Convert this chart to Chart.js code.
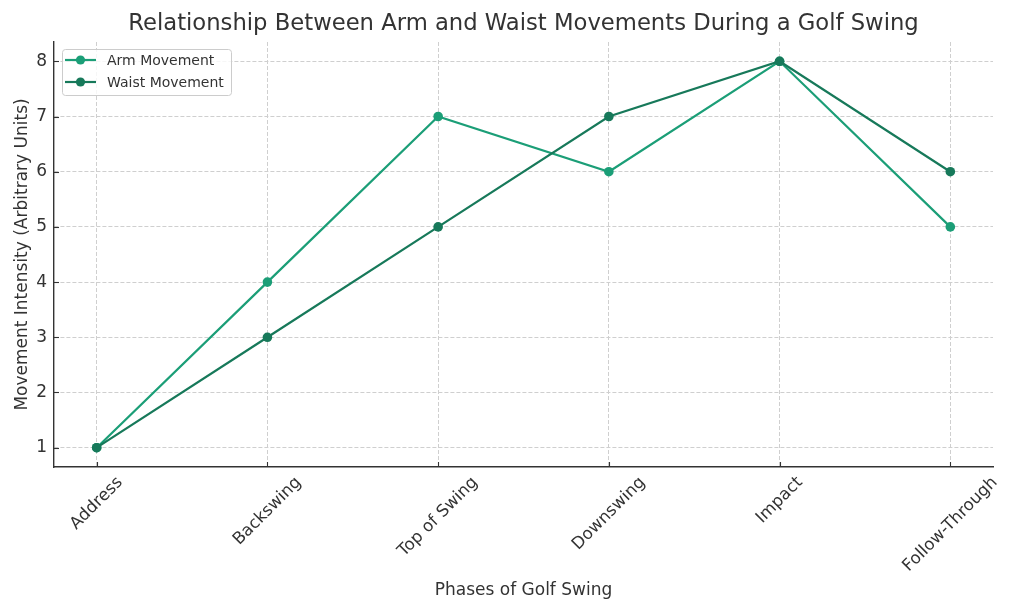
<!DOCTYPE html>
<html>
<head>
<meta charset="utf-8">
<script src="https://cdn.jsdelivr.net/npm/chart.js@4/dist/chart.umd.min.js"></script>
<style>
    body { margin: 0; background: #fff; }
    canvas { display: block; }
</style>
</head>
<body>
<canvas id="swingChart" width="1024" height="614"></canvas>
<script>
const chartTitle = 'Relationship Between Arm and Waist Movements During a Golf Swing';
const phases = ['Address', 'Backswing', 'Top of Swing', 'Downswing', 'Impact', 'Follow-Through'];
const armMovement = [1, 4, 7, 6, 8, 5];
const waistMovement = [1, 3, 5, 7, 8, 6];
const yTicks = [1, 2, 3, 4, 5, 6, 7, 8];

const armColor = '#1b9e77';
const waistColor = '#17795a';
const textColor = '#333333';
const gridColor = '#cfcfcf';
const font = 'DejaVu Sans';

// matplotlib-like extras: title over the axes, inward ticks, centred rotated x labels, legend box
const extrasPlugin = {
    id: 'extras',
    afterDraw(chart) {
        const ctx = chart.ctx;
        const xs = chart.scales.x;
        const ys = chart.scales.y;
        const area = chart.chartArea;

        ctx.save();
        ctx.fillStyle = textColor;
        ctx.font = '22.7px "' + font + '"';
        ctx.textAlign = 'center';
        ctx.textBaseline = 'middle';
        ctx.fillText(chartTitle, (area.left + area.right) / 2, 24);

        ctx.strokeStyle = textColor;
        ctx.lineWidth = 1.1;
        phases.forEach((_, i) => {
            const px = Math.round(xs.getPixelForValue(i)) + 0.5;
            ctx.beginPath();
            ctx.moveTo(px, area.bottom);
            ctx.lineTo(px, area.bottom - 5);
            ctx.stroke();
        });
        yTicks.forEach((v) => {
            const py = Math.round(ys.getPixelForValue(v)) + 0.5;
            ctx.beginPath();
            ctx.moveTo(area.left, py);
            ctx.lineTo(area.left + 5, py);
            ctx.stroke();
        });

        // rotated x tick labels, bbox centred under each tick
        const size = 16.7;
        ctx.font = size + 'px "' + font + '"';
        phases.forEach((label, i) => {
            const px = xs.getPixelForValue(i);
            const w = ctx.measureText(label).width;
            const side = (w + size * 1.16) * Math.SQRT1_2;
            ctx.save();
            ctx.translate(px, area.bottom + 6 + side / 2);
            ctx.rotate(-Math.PI / 4);
            ctx.fillText(label, 0, 0);
            ctx.restore();
        });

        // legend
        const lx = 62, ly = 49, lw = 169, lh = 46;
        ctx.beginPath();
        ctx.roundRect(lx + 0.5, ly + 0.5, lw, lh, 3);
        ctx.fillStyle = 'rgba(255,255,255,0.8)';
        ctx.fill();
        ctx.strokeStyle = '#cccccc';
        ctx.lineWidth = 1;
        ctx.stroke();

        const entries = [
            { text: 'Arm Movement', color: armColor },
            { text: 'Waist Movement', color: waistColor },
        ];
        ctx.font = '14px "' + font + '"';
        ctx.textAlign = 'left';
        entries.forEach((e, i) => {
            const cy = 60 + i * 22;
            ctx.strokeStyle = e.color;
            ctx.lineWidth = 2.2;
            ctx.beginPath();
            ctx.moveTo(65, cy);
            ctx.lineTo(96, cy);
            ctx.stroke();
            ctx.fillStyle = e.color;
            ctx.beginPath();
            ctx.arc(80.5, cy, 4.6, 0, Math.PI * 2);
            ctx.fill();
            ctx.fillStyle = textColor;
            ctx.fillText(e.text, 107, cy + 1);
        });
        ctx.restore();
    },
};

const toPoints = (values) => values.map((v, i) => ({ x: i, y: v }));

const ctx = document.getElementById('swingChart').getContext('2d');
const swingChart = new Chart(ctx, {
    type: 'line',
    data: {
        datasets: [
            {
                label: 'Arm Movement',
                data: toPoints(armMovement),
                borderColor: armColor,
                backgroundColor: armColor,
                borderWidth: 2.2,
                pointRadius: 4.8,
                pointBorderWidth: 0,
                order: 1,
            },
            {
                label: 'Waist Movement',
                data: toPoints(waistMovement),
                borderColor: waistColor,
                backgroundColor: waistColor,
                borderWidth: 2.2,
                pointRadius: 4.8,
                pointBorderWidth: 0,
                order: 0,
            },
        ],
    },
    options: {
        responsive: false,
        animation: false,
        devicePixelRatio: 1,
        layout: { padding: { left: 0, right: 31, top: 42, bottom: 0 } },
        plugins: {
            legend: { display: false },
            tooltip: { enabled: false },
            title: { display: false },
        },
        scales: {
            x: {
                type: 'linear',
                min: -0.25,
                max: 5.25,
                afterBuildTicks: (scale) => {
                    scale.ticks = phases.map((_, i) => ({ value: i }));
                },
                afterFit: (scale) => { scale.height = 147; },
                ticks: { display: false },
                grid: { color: gridColor, lineWidth: 1, drawTicks: false },
                border: { display: true, color: textColor, width: 1.4, dash: [4, 2] },
                title: {
                    display: true,
                    text: 'Phases of Golf Swing',
                    color: textColor,
                    font: { family: font, size: 17 },
                    padding: { top: 0, bottom: 13 },
                },
            },
            y: {
                type: 'linear',
                min: 0.65,
                max: 8.35,
                afterBuildTicks: (scale) => {
                    scale.ticks = yTicks.map((v) => ({ value: v }));
                },
                afterFit: (scale) => { scale.width = 54; },
                ticks: {
                    color: textColor,
                    font: { family: font, size: 17 },
                    padding: 7,
                },
                grid: { color: gridColor, lineWidth: 1, drawTicks: false },
                border: { display: true, color: textColor, width: 1.4, dash: [4, 2] },
                title: {
                    display: true,
                    text: 'Movement Intensity (Arbitrary Units)',
                    color: textColor,
                    font: { family: font, size: 17 },
                    padding: { top: 12, bottom: 0 },
                },
            },
        },
    },
    plugins: [extrasPlugin],
});
</script>
</body>
</html>
